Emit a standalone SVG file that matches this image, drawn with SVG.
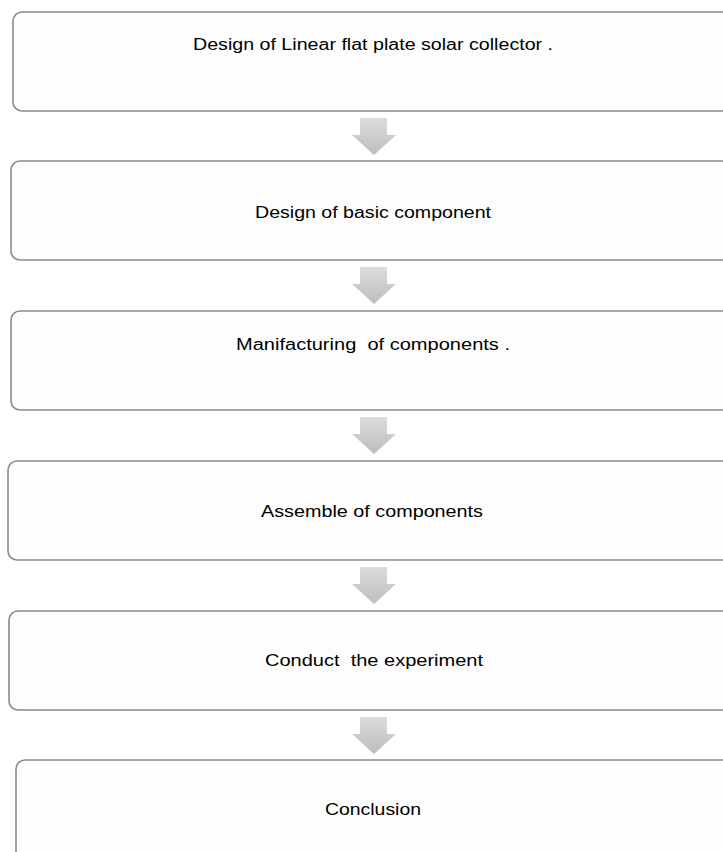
<svg xmlns="http://www.w3.org/2000/svg" width="723" height="852" viewBox="0 0 723 852">
<defs>
<linearGradient id="ag" x1="0" y1="0" x2="0" y2="1">
<stop offset="0" stop-color="#dcdcdc"/>
<stop offset="1" stop-color="#bdbdbd"/>
</linearGradient>
<path id="arrow" d="M-14,0 H13 V17 H22 L0,37 L-22,17 H-14 Z" fill="url(#ag)"/>
</defs>
<style>
.box{fill:#fdfdfd;stroke:#8a8a8a;stroke-width:1.6}
.t{font-family:"Liberation Sans",Arial,sans-serif;font-size:16px;fill:#000;text-anchor:middle}
</style>
<rect width="723" height="852" fill="#ffffff"/>
<g id="connectors">
<use href="#arrow" x="374" y="118"/>
<use href="#arrow" x="374" y="267"/>
<use href="#arrow" x="374" y="417"/>
<use href="#arrow" x="374" y="567"/>
<use href="#arrow" x="374" y="717"/>
</g>
<g id="n1">
<rect class="box" x="13" y="12" width="740" height="99" rx="9"/>
<text class="t" x="373" y="50" textLength="360" lengthAdjust="spacingAndGlyphs">Design of Linear flat plate solar collector .</text>
</g>
<g id="n2">
<rect class="box" x="11" y="161" width="740" height="99" rx="9"/>
<text class="t" x="373" y="218" textLength="236" lengthAdjust="spacingAndGlyphs">Design of basic component</text>
</g>
<g id="n3">
<rect class="box" x="11" y="311" width="740" height="99" rx="9"/>
<text class="t" x="373" y="350" textLength="274" lengthAdjust="spacingAndGlyphs" xml:space="preserve">Manifacturing  of components .</text>
</g>
<g id="n4">
<rect class="box" x="8" y="461" width="740" height="99" rx="9"/>
<text class="t" x="372" y="517" textLength="222" lengthAdjust="spacingAndGlyphs">Assemble of components</text>
</g>
<g id="n5">
<rect class="box" x="9" y="611" width="740" height="99" rx="9"/>
<text class="t" x="374" y="666" textLength="218" lengthAdjust="spacingAndGlyphs" xml:space="preserve">Conduct  the experiment</text>
</g>
<g id="n6">
<rect class="box" x="16" y="760" width="740" height="120" rx="9"/>
<text class="t" x="373" y="815" textLength="96" lengthAdjust="spacingAndGlyphs">Conclusion</text>
</g>
</svg>
